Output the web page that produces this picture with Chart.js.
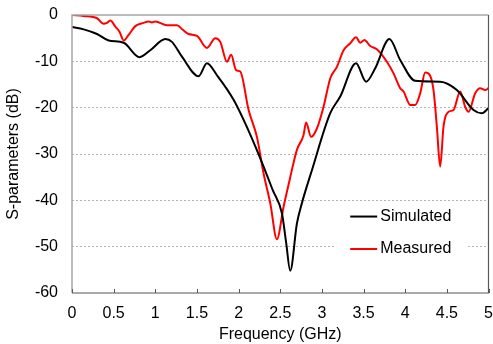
<!DOCTYPE html>
<html>
<head>
<meta charset="utf-8">
<script src="https://cdn.jsdelivr.net/npm/chart.js@4/dist/chart.umd.min.js"></script>
<style>
  html, body { margin: 0; padding: 0; background: #fff; }
  #wrap { width: 493px; height: 344px; }
</style>
</head>
<body>
<div id="wrap"><canvas id="chart" width="493" height="344"></canvas></div>
<script>
// Simulated S-parameter (dB) vs frequency (GHz)
const simFreq = [0, 0.14, 0.30, 0.44, 0.62, 0.81, 0.94, 1.12, 1.20, 1.32, 1.52, 1.62, 1.74, 1.94, 2.14, 2.30, 2.41, 2.52, 2.57, 2.62, 2.70, 2.76, 2.88, 3.10, 3.22, 3.41, 3.53, 3.64, 3.81, 3.94, 4.12, 4.42, 4.62, 4.82, 4.92, 5.0];
const simDb = [-2.6, -3.1, -4.1, -5.5, -6.0, -9.1, -7.6, -5.2, -5.8, -9.0, -13.2, -10.4, -13.0, -18.3, -25.8, -32.7, -37.8, -42.8, -49, -55.2, -45, -40.6, -33.5, -21.2, -17.6, -10.4, -14.4, -11.5, -5.2, -9.7, -14.2, -14.4, -16.2, -20.5, -21.2, -20.1];

// Measured S-parameter (dB) vs frequency (GHz)
const measFreq = [0, 0.14, 0.30, 0.38, 0.42, 0.46, 0.52, 0.57, 0.62, 0.68, 0.76, 0.86, 0.92, 0.96, 1.00, 1.14, 1.26, 1.33, 1.40, 1.50, 1.62, 1.72, 1.78, 1.86, 1.91, 1.97, 2.02, 2.12, 2.22, 2.30, 2.38, 2.46, 2.54, 2.62, 2.70, 2.78, 2.81, 2.87, 2.94, 3.02, 3.10, 3.18, 3.26, 3.34, 3.41, 3.46, 3.51, 3.58, 3.66, 3.78, 3.86, 3.94, 3.98, 4.06, 4.12, 4.18, 4.24, 4.29, 4.34, 4.38, 4.42, 4.46, 4.52, 4.58, 4.66, 4.72, 4.76, 4.84, 4.90, 4.96, 5.0];
const measDb = [0, -0.2, -0.7, -1.9, -1.7, -1.2, -2.5, -3.6, -5.5, -4.3, -2.4, -1.7, -1.4, -1.6, -1.4, -2.2, -2.2, -3.2, -4.1, -4.5, -7.1, -5.0, -5.8, -10.1, -8.6, -11.9, -12.2, -20.5, -26.3, -34.2, -40.6, -48.4, -41.4, -35.0, -29.1, -25.9, -23.2, -26.3, -24.5, -19.8, -13.7, -11.2, -7.6, -6.1, -4.8, -6.0, -5.4, -6.7, -7.4, -10.1, -12.6, -15.8, -16.5, -19.4, -19.4, -16.9, -12.4, -12.8, -16.2, -24.1, -32.7, -24.1, -20.9, -20.5, -16.5, -19.8, -20.9, -16.9, -15.8, -16.2, -15.8];

const seriesNames = ["Simulated", "Measured"];
const xTicks = [0, 0.5, 1, 1.5, 2, 2.5, 3, 3.5, 4, 4.5, 5];

const FONT = "'Liberation Sans', Arial, sans-serif";

function toPoints(xs, ys) {
  return xs.map((x, i) => ({ x: x, y: ys[i] }));
}

// frame around the plot and inward tick marks on the x axis
const framePlugin = {
  id: "frame",
  afterDraw(chart) {
    const { ctx, chartArea: a, scales } = chart;
    ctx.save();
    ctx.lineWidth = 1.5;
    ctx.strokeStyle = "#a6a6a6";
    ctx.beginPath();
    ctx.moveTo(a.left, a.bottom);
    ctx.lineTo(a.left, a.top);
    ctx.lineTo(a.right, a.top);
    ctx.stroke();
    ctx.strokeStyle = "#595959";
    ctx.lineWidth = 1.2;
    ctx.beginPath();
    ctx.moveTo(a.right, a.top);
    ctx.lineTo(a.right, a.bottom);
    ctx.lineTo(a.left, a.bottom);
    ctx.stroke();
    ctx.lineWidth = 1;
    ctx.beginPath();
    xTicks.forEach(v => {
      const px = Math.round(scales.x.getPixelForValue(v)) + 0.5;
      ctx.moveTo(px, a.bottom);
      ctx.lineTo(px, a.bottom - 4);
    });
    ctx.stroke();
    ctx.restore();
  }
};

// legend sitting inside the plot, lower right
const legendPlugin = {
  id: "innerLegend",
  afterDatasetsDraw(chart) {
    const { ctx, scales } = chart;
    const x0 = scales.x.getPixelForValue(3.34);
    const yTop = scales.y.getPixelForValue(-41.5);
    ctx.save();
    ctx.fillStyle = "#fff";
    ctx.fillRect(x0 - 14, yTop, 132, 58);
    ctx.font = "16px " + FONT;
    ctx.textBaseline = "middle";
    chart.data.datasets.forEach((ds, i) => {
      const y = scales.y.getPixelForValue(-43.5 - i * 7);
      ctx.strokeStyle = ds.borderColor;
      ctx.lineWidth = 2;
      ctx.beginPath();
      ctx.moveTo(x0, y);
      ctx.lineTo(x0 + 27, y);
      ctx.stroke();
      ctx.fillStyle = "#000";
      ctx.fillText(ds.label, x0 + 30, y);
    });
    ctx.restore();
  }
};

const ctx = document.getElementById("chart").getContext("2d");
new Chart(ctx, {
  type: "line",
  data: {
    datasets: [
      {
        label: seriesNames[0],
        data: toPoints(simFreq, simDb),
        borderColor: "#000000",
        borderWidth: 2,
        pointRadius: 0,
        cubicInterpolationMode: "monotone",
        fill: false,
      },
      {
        label: seriesNames[1],
        data: toPoints(measFreq, measDb),
        borderColor: "#ff0000",
        borderWidth: 2,
        pointRadius: 0,
        cubicInterpolationMode: "monotone",
        fill: false,
      },
    ],
  },
  options: {
    responsive: false,
    animation: false,
    layout: { padding: { top: 15, right: 4.5, left: 0, bottom: 0 } },
    plugins: {
      legend: { display: false },
      tooltip: { enabled: false },
    },
    scales: {
      x: {
        type: "linear",
        min: 0,
        max: 5,
        afterBuildTicks: s => { s.ticks = xTicks.map(v => ({ value: v })); },
        afterFit: s => { s.height = 51; s.paddingLeft = 0; s.paddingRight = 0; },
        grid: { display: false, drawTicks: false },
        border: { display: false },
        ticks: {
          padding: 11,
          color: "#000",
          font: { family: FONT, size: 16 },
          maxRotation: 0,
          callback: v => String(v),
        },
        title: {
          display: true,
          text: "Frequency (GHz)",
          color: "#000",
          font: { family: FONT, size: 16 },
          padding: { top: 0, bottom: 0 },
        },
      },
      y: {
        min: -60,
        max: 0,
        afterFit: s => { s.width = 72; s.paddingTop = 0; s.paddingBottom = 0; },
        ticks: {
          stepSize: 10,
          padding: 14,
          color: "#000",
          font: { family: FONT, size: 16 },
        },
        grid: {
          drawTicks: false,
          color: c => (c.tick.value === 0 || c.tick.value === -60) ? "rgba(0,0,0,0)" : "#b4b4b4",
          lineWidth: 1,
        },
        border: { display: false, dash: [2, 2] },
        title: {
          display: true,
          text: "S-parameters (dB)",
          color: "#000",
          font: { family: FONT, size: 16 },
          padding: { top: 4, bottom: 4 },
        },
      },
    },
  },
  plugins: [framePlugin, legendPlugin],
});
</script>
</body>
</html>
